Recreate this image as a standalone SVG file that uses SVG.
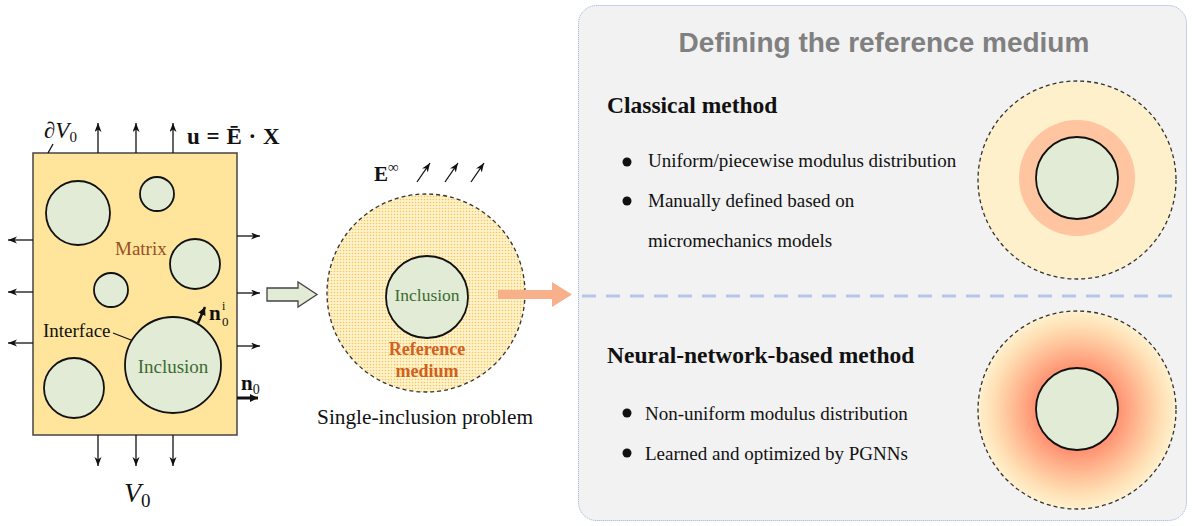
<svg xmlns="http://www.w3.org/2000/svg" width="1192" height="526" viewBox="0 0 1192 526">
<style>
.inc{fill:#E2EBD5;stroke:#111;stroke-width:1.8}
.ser{font-family:"Liberation Serif","Times New Roman",serif}
.thin{stroke:#111;stroke-width:1.3;fill:none}
.dash{fill:none;stroke:#333;stroke-width:1.3;stroke-dasharray:4 3}
.body{font-family:"Liberation Serif","Times New Roman",serif;font-size:19px;fill:#111}
.head{font-family:"Liberation Serif","Times New Roman",serif;font-size:23.5px;font-weight:bold;fill:#111}
</style>
<defs>
<marker id="ah" markerUnits="userSpaceOnUse" markerWidth="10" markerHeight="8" refX="9" refY="3.5" orient="auto">
<path d="M0,0 L9,3.5 L0,7 L2.5,3.5 z" fill="#111"/>
</marker>
<marker id="ahb" markerUnits="userSpaceOnUse" markerWidth="10" markerHeight="10" refX="8" refY="4" orient="auto">
<path d="M0,0 L8,4 L0,8 z" fill="#111"/>
</marker>
<pattern id="dots" width="3" height="3" patternUnits="userSpaceOnUse">
<rect width="3" height="3" fill="#FFF3CC"/>
<circle cx="1.5" cy="1.5" r="0.8" fill="#F8C45C"/>
</pattern>
<radialGradient id="nn" gradientUnits="userSpaceOnUse" cx="1077" cy="410" r="99">
<stop offset="0" stop-color="#FF6A4A"/>
<stop offset="0.42" stop-color="#FF9272"/>
<stop offset="0.65" stop-color="#FFBD95"/>
<stop offset="0.85" stop-color="#FFDFB4"/>
<stop offset="1" stop-color="#FFF1CE"/>
</radialGradient>
</defs>
<rect width="1192" height="526" fill="#FFFFFF"/>

<g id="rve">
<rect x="33" y="153" width="204" height="282" fill="#FFE59B" stroke="#444" stroke-width="1.5"/>
<circle class="inc" cx="78" cy="213" r="32"/>
<circle class="inc" cx="157" cy="194" r="17"/>
<circle class="inc" cx="195" cy="264" r="25"/>
<circle class="inc" cx="111" cy="290" r="17"/>
<circle class="inc" cx="173" cy="365" r="48"/>
<circle class="inc" cx="74" cy="388" r="30"/>
<line class="thin" x1="98" y1="153" x2="98" y2="123" marker-end="url(#ah)"/>
<line class="thin" x1="136" y1="153" x2="136" y2="123" marker-end="url(#ah)"/>
<line class="thin" x1="173" y1="153" x2="173" y2="123" marker-end="url(#ah)"/>
<line class="thin" x1="98" y1="435" x2="98" y2="466" marker-end="url(#ah)"/>
<line class="thin" x1="136" y1="435" x2="136" y2="466" marker-end="url(#ah)"/>
<line class="thin" x1="173" y1="435" x2="173" y2="466" marker-end="url(#ah)"/>
<line class="thin" x1="33" y1="240" x2="8" y2="240" marker-end="url(#ah)"/>
<line class="thin" x1="33" y1="292" x2="8" y2="292" marker-end="url(#ah)"/>
<line class="thin" x1="33" y1="343" x2="8" y2="343" marker-end="url(#ah)"/>
<line class="thin" x1="237" y1="236" x2="260" y2="236" marker-end="url(#ah)"/>
<line class="thin" x1="237" y1="293" x2="260" y2="293" marker-end="url(#ah)"/>
<line class="thin" x1="237" y1="346" x2="260" y2="346" marker-end="url(#ah)"/>
<line x1="237" y1="398" x2="258" y2="398" stroke="#111" stroke-width="3" marker-end="url(#ahb)"/>
<line x1="198" y1="323" x2="205" y2="307" stroke="#111" stroke-width="2.5" marker-end="url(#ahb)"/>
<line class="thin" x1="48" y1="153" x2="53" y2="144"/>
<line class="thin" x1="113" y1="333" x2="131" y2="340"/>
<text class="ser" x="44" y="138" font-size="23" font-style="italic" fill="#111">∂V<tspan font-size="15" dy="4" font-style="normal">0</tspan></text>
<text class="ser" x="187" y="144" font-size="23" font-weight="bold" fill="#111" word-spacing="1">u = Ē · X</text>
<text class="ser" x="115" y="255" font-size="19" fill="#9A4E22">Matrix</text>
<text class="ser" x="43" y="337" font-size="19" fill="#111">Interface</text>
<text class="ser" x="173" y="373" font-size="19" fill="#3C6B32" text-anchor="middle">Inclusion</text>
<text class="ser" x="209" y="320" font-size="21" font-weight="bold" fill="#111">n</text>
<text class="ser" x="222" y="310" font-size="12" fill="#111">i</text>
<text class="ser" x="222" y="326" font-size="13" fill="#111">0</text>
<text class="ser" x="241" y="390" font-size="21" font-weight="bold" fill="#111">n<tspan font-size="14" font-weight="normal" dy="4">0</tspan></text>
<text class="ser" x="124" y="502" font-size="28" font-style="italic" fill="#111">V<tspan font-size="19" dy="5" font-style="normal">0</tspan></text>
</g>

<g id="single-inclusion">
<circle cx="426" cy="293" r="99" class="dash" style="fill:url(#dots)"/>
<circle class="inc" cx="427" cy="297" r="41"/>
<text class="ser" x="427" y="301" font-size="17.5" fill="#3C6B32" text-anchor="middle">Inclusion</text>
<text class="ser" x="427" y="355" font-size="18" font-weight="bold" fill="#D0601E" text-anchor="middle">Reference</text>
<text class="ser" x="427" y="377" font-size="18" font-weight="bold" fill="#D0601E" text-anchor="middle">medium</text>
<text class="ser" x="374" y="181" font-size="21" font-weight="bold" fill="#111">E<tspan font-size="15" dy="-9">∞</tspan></text>
<line class="thin" x1="417" y1="182" x2="430" y2="163" marker-end="url(#ah)"/>
<line class="thin" x1="445" y1="182" x2="458" y2="163" marker-end="url(#ah)"/>
<line class="thin" x1="471" y1="182" x2="484" y2="163" marker-end="url(#ah)"/>
<text class="ser" x="425" y="424" font-size="21.3" fill="#111" text-anchor="middle">Single-inclusion problem</text>
</g>

<g id="reference-panel">
<rect x="578.5" y="5.5" width="608" height="515" rx="18" fill="#F2F2F2" stroke="#8FAADC" stroke-width="1" stroke-dasharray="1 1"/>
<text x="884" y="52" font-family="'Liberation Sans',Arial,sans-serif" font-size="28" font-weight="bold" fill="#808080" text-anchor="middle">Defining the reference medium</text>
<line x1="582" y1="296" x2="1180" y2="296" stroke="#B4C7E7" stroke-width="3" stroke-dasharray="14 10"/>
<g id="classical">
<text class="head" x="607" y="113">Classical method</text>
<circle cx="627" cy="162" r="4.5" fill="#111"/>
<circle cx="627" cy="201" r="4.5" fill="#111"/>
<text class="body" x="648" y="167">Uniform/piecewise modulus distribution</text>
<text class="body" x="648" y="207">Manually defined based on</text>
<text class="body" x="648" y="247">micromechanics models</text>
<circle cx="1077" cy="180" r="99" class="dash" style="fill:#FFF0CC"/>
<circle cx="1077" cy="178" r="58" fill="#FFC4A0"/>
<circle class="inc" cx="1077" cy="178" r="41"/>
</g>
<g id="neural">
<text class="head" x="607" y="363">Neural-network-based method</text>
<circle cx="627" cy="413" r="4.5" fill="#111"/>
<circle cx="627" cy="453" r="4.5" fill="#111"/>
<text class="body" x="645" y="420">Non-uniform modulus distribution</text>
<text class="body" x="645" y="460">Learned and optimized by PGNNs</text>
<circle cx="1077" cy="410" r="99" class="dash" style="fill:url(#nn)"/>
<circle class="inc" cx="1077" cy="409" r="41"/>
</g>
</g>

<g id="connectors">
<path d="M267,288 L298,288 L298,282 L317,294.5 L298,307 L298,301 L267,301 z" fill="#E2EBD5" stroke="#444" stroke-width="1.3"/>
<path d="M498,290 L552,290 L552,282 L572,294.5 L552,307 L552,299 L498,299 z" fill="#F8B08B"/>
</g>
</svg>
